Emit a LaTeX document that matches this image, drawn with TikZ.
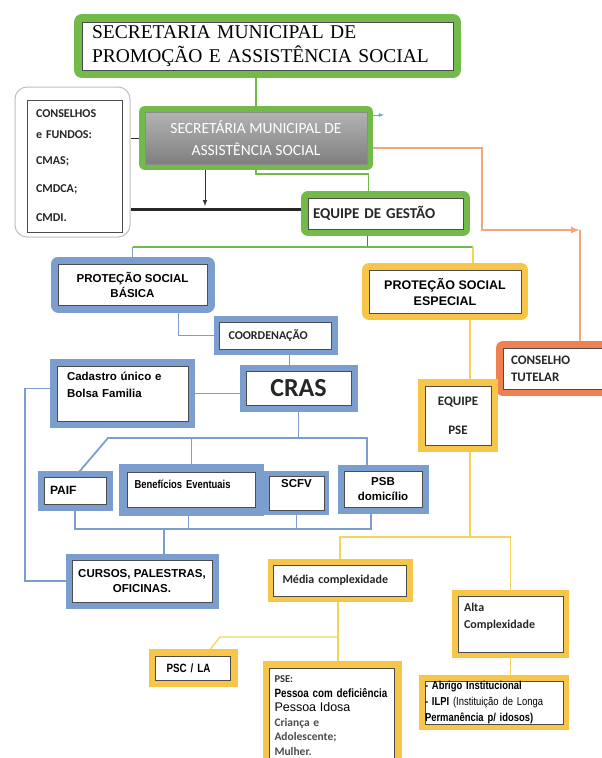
\documentclass[tikz,border=0pt]{standalone}
\usepackage{fontspec}
\setmainfont{Liberation Sans}
\newfontfamily\titlefont{Liberation Serif}
\newfontfamily\calib{Carlito}
\newfontfamily\narrow[FakeStretch=0.82]{Liberation Sans}
\usetikzlibrary{backgrounds}
\definecolor{sgreen}{RGB}{114,186,74}
\definecolor{sblue}{RGB}{124,158,206}
\definecolor{syellow}{RGB}{247,198,72}
\definecolor{sorange}{RGB}{238,128,82}
\definecolor{sline}{RGB}{244,166,124}
\definecolor{ylight}{RGB}{246,212,92}
\begin{document}
\begin{tikzpicture}[x=1pt,y=-1pt,
		inbox/.style={draw=black!70,fill=white,inner sep=0pt,line width=0.6pt},
		band/.style n args={3}{preaction={draw=#1,line width=#2,line join=#3}},
		gline/.style={draw=sgreen,line width=1.8pt},
		bline/.style={draw=sblue,line width=1.8pt},
		yline/.style={draw=ylight,line width=1.3pt},
		oline/.style={draw=sline,line width=2pt},
		arialb/.style={font=\bfseries\fontsize{#1}{15}\selectfont},
		calb/.style={font=\calib\bfseries\fontsize{#1}{16}\selectfont,text=black!85}]
	\useasboundingbox (0,0) rectangle (602,758);
	% top level
	\node[inbox,band={sgreen}{16pt}{round},minimum height=48pt,text width=351pt,
		inner xsep=10pt,align=left,font=\titlefont\fontsize{19.5}{24}\selectfont]
		(title) at (267.5,46) {SECRETARIA MUNICIPAL DE\\PROMOÇÃO E ASSISTÊNCIA SOCIAL};
	\node[band={sgreen}{12pt}{round},draw=black!45,top color=black!30,bottom color=black!50,
		inner sep=0pt,minimum width=222pt,minimum height=52pt,align=center,text=white,
		font=\calib\fontsize{15.5}{22}\selectfont]
		(sec) at (256,138) {SECRETÁRIA MUNICIPAL DE\\ASSISTÊNCIA SOCIAL};
	\node[draw=black!25,line width=1pt,rounded corners=12pt,fill=white,
		minimum width=115pt,minimum height=150pt] (cons) at (72.5,162) {};
	\node[inbox,minimum height=132pt,text width=77pt,inner xsep=9pt,align=left,calb=12]
		(consin) at (74.5,166) {CONSELHOS\\[5pt]e FUNDOS:\\[10pt]CMAS;\\[12pt]CMDCA;\\[13pt]CMDI.};
	\node[inbox,band={sgreen}{14pt}{round},minimum height=31pt,text width=145pt,
		inner xsep=5pt,align=left,calb=15] (eg) at (385.5,213.5) {EQUIPE DE GESTÃO};
	% protecao social basica
	\node[inbox,band={sblue}{15pt}{round},minimum width=149pt,minimum height=41pt,
		align=center,arialb=11.5] (psb) at (132.5,284.5) {PROTEÇÃO SOCIAL\\BÁSICA};
	\node[inbox,band={sblue}{12pt}{miter},minimum height=27pt,text width=94pt,
		inner xsep=9pt,align=left,calb=12] (coord) at (275.5,335.5) {COORDENAÇÃO};
	\node[inbox,band={sblue}{14pt}{miter},minimum height=55pt,text width=111pt,
		inner xsep=10pt,align=left,font=\bfseries\fontsize{11.5}{17}\selectfont]
		(cad) at (122.5,393.5) {Cadastro único e\\Bolsa Familia\\ \mbox{}};
	\node[inbox,band={sblue}{13pt}{miter},minimum width=105pt,minimum height=34pt,
		calb=26] (cras) at (298.5,388) {CRAS};
	\node[inbox,band={sblue}{13pt}{miter},minimum height=27pt,text width=50pt,
		inner xsep=6pt,align=left,arialb=12] (paif) at (75,490.5) {PAIF};
	\node[inbox,band={sblue}{17pt}{miter},minimum height=35pt,text width=114pt,
		inner xsep=7pt,align=left,text depth=10pt,
		font=\narrow\bfseries\fontsize{11.5}{14}\selectfont] (ben) at (191.5,489.5) {Benefícios Eventuais};
	\node[inbox,band={sblue}{10pt}{miter},minimum width=55pt,minimum height=34pt,
		text depth=20pt,arialb=11.5] (scfv) at (296.5,493) {SCFV};
	\node[inbox,band={sblue}{13pt}{miter},minimum width=78pt,minimum height=36pt,
		align=center,arialb=11.5] (psbd) at (383,489) {PSB\\domicílio};
	\node[inbox,band={sblue}{13pt}{miter},minimum width=140pt,minimum height=42pt,
		align=center,arialb=11.5] (cursos) at (142,581) {CURSOS, PALESTRAS,\\OFICINAS.};
	% protecao social especial
	\node[inbox,band={syellow}{14pt}{round},minimum width=152pt,minimum height=43pt,
		align=center,font=\bfseries\fontsize{12.5}{16}\selectfont]
		(pse) at (445,291.5) {PROTEÇÃO SOCIAL\\ESPECIAL};
	\node[inbox,band={sorange}{14pt}{round},minimum height=41pt,text width=97pt,
		inner xsep=8pt,align=left,font=\calib\bfseries\fontsize{13}{17}\selectfont,text=black!85]
		(ct) at (559.5,368.5) {CONSELHO\\TUTELAR};
	\node[inbox,band={syellow}{14pt}{miter},minimum width=66pt,minimum height=59pt,
		align=center,font=\calib\bfseries\fontsize{13}{15}\selectfont,text=black!85]
		(eqpse) at (458,415.5) {EQUIPE\\[14pt]PSE};
	\node[inbox,band={syellow}{12pt}{miter},minimum height=31pt,text width=115pt,
		inner xsep=9pt,align=left,calb=12] (media) at (340,580.5) {Média complexidade};
	\node[inbox,band={syellow}{12pt}{miter},minimum height=56pt,text width=93pt,
		inner xsep=6pt,align=left,font=\calib\bfseries\fontsize{12}{17}\selectfont,text=black!85]
		(alta) at (510.5,624) {Alta\\Complexidade\\ \mbox{}};
	\node[inbox,band={syellow}{14pt}{miter},minimum height=24pt,text width=53pt,
		inner xsep=11pt,align=left,font=\narrow\bfseries\fontsize{12}{14}\selectfont]
		(psc) at (193,668) {PSC / LA};
	\node[inbox,band={syellow}{14pt}{miter},minimum height=95pt,text width=115pt,
		inner xsep=5pt,align=left,font=\fontsize{11}{14.6}\selectfont]
		(pselist) at (332,715.5) {{\calib\bfseries\fontsize{10.5}{14.6}\selectfont\color{black!80}PSE:}\\
		{\narrow\bfseries\fontsize{12}{14.6}\selectfont Pessoa com deficiência}\\
		{\fontsize{12.5}{14.6}\selectfont Pessoa Idosa}\\
		{\calib\bfseries\fontsize{11.5}{14.6}\selectfont\color{black!70}Criança e}\\
		{\calib\bfseries\fontsize{11.5}{14.6}\selectfont\color{black!70}Adolescente;}\\
		{\calib\bfseries\fontsize{11.5}{14.6}\selectfont\color{black!70}Mulher.}};
	\node[inbox,band={syellow}{12pt}{miter},minimum height=39pt,text width=138pt,
		inner xsep=0pt,align=left,font=\narrow\bfseries\fontsize{11.5}{16}\selectfont]
		(abrigo) at (494,702.5) {- Abrigo Institucional\\- ILPI {\mdseries(Instituição de Longa}\\Permanência p/ idosos)};
	% connectors
	\coordinate (drop) at (205,206);
	\coordinate (bluetip) at (384,115);
	\coordinate (otip) at (580,230);
	\coordinate (gsplit) at (367,247);
	\coordinate (hub) at (298,438);
	\coordinate (bhub) at (164,529);
	\coordinate (yhub) at (470,537);
	\coordinate (ybr) at (338,637);
	\begin{scope}[on background layer]
		\draw[gline] (title.south -| sec.north) -- (sec.north);
		\draw[gline] (sec.south) -- ++(0,10) -| ([xshift=-17pt]eg.north);
		\draw[-latex,line width=1pt,black!80] (sec.south -| drop) -- (drop);
		\draw[line width=2.2pt,black!85] ([yshift=4pt]eg.west) -- ([yshift=4pt]eg.west -| cons.east);
		\draw[line width=1pt,black!80] (sec.west) -- (sec.west -| cons.east);
		\draw[-latex,sblue,line width=0.8pt] (sec.east |- bluetip) -- (bluetip);
		\draw[oline,-latex] ([yshift=-10pt]sec.east) -| (482,230) -- (otip);
		\draw[oline] (otip) -- (otip |- ct.north);
		\draw[line width=0.8pt,sblue!70!black] (eg.south -| gsplit) -- (gsplit);
		\draw[gline] (psb.north |- gsplit) -- ([xshift=28pt]pse.north |- gsplit);
		\draw[bline,line width=1pt] (psb.north |- gsplit) -- (psb.north);
		\draw[yline] ([xshift=28pt]pse.north |- gsplit) -- ([xshift=28pt]pse.north);
		\draw[bline] ([xshift=46pt]psb.south) |- (coord.west);
		\draw[bline] ([xshift=14pt]coord.south) -- ([xshift=14pt]coord.south |- cras.north);
		\draw[bline] (cad.east) -- (cad.east -| cras.west);
		\draw[bline] (cras.south) -- (cras.south |- hub);
		\draw[bline] (paif.north) -- ([xshift=33pt]paif.north |- hub)
			-- ([xshift=-16pt]psbd.north |- hub) -- ([xshift=-16pt]psbd.north);
		\draw[bline] (ben.north |- hub) -- (ben.north);
		\draw[bline] (paif.south) |- ([xshift=-12pt]psbd.south |- bhub) -- ([xshift=-12pt]psbd.south);
		\draw[bline] ([xshift=-3pt]ben.south) -- ([xshift=-3pt]ben.south |- bhub);
		\draw[bline] (scfv.south) -- (scfv.south |- bhub);
		\draw[bline] (bhub) -- (bhub |- cursos.north);
		\draw[bline] ([yshift=5pt]cad.west) -- ++(-32,0) |- (cursos.west);
		\draw[yline] ([xshift=12pt]eqpse.north) -- ([xshift=12pt]eqpse.north |- pse.south);
		\draw[yline] ([xshift=12pt]eqpse.south) -- ([xshift=12pt]eqpse.south |- yhub);
		\draw[yline] (media.north) |- (alta.north |- yhub) -- (alta.north);
		\draw[yline] ([xshift=-2pt]media.south) -- ([xshift=-2pt]media.south |- pselist.north);
		\draw[yline] (ybr) -- (220,637) -- ([xshift=12pt]psc.north);
		\draw[yline] (alta.south) -- (alta.south |- abrigo.north);
	\end{scope}
\end{tikzpicture}
\end{document}
